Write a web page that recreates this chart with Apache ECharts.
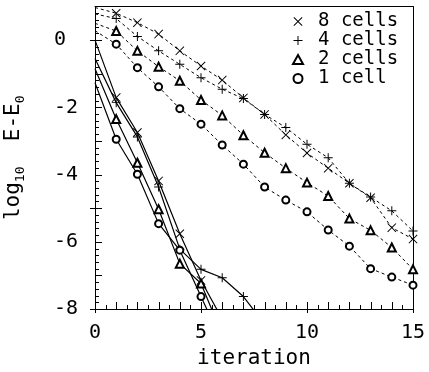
<!DOCTYPE html>
<html><head><meta charset="utf-8">
<script src="https://cdn.jsdelivr.net/npm/echarts@6/dist/echarts.min.js"></script>
<style>html,body{margin:0;padding:0;background:#fff}#c{width:429px;height:372px}</style>
</head><body><div id="c"></div>
<script>
// ---- data (log10 E - E0 vs iteration) ----
const names = ['8 cells', '4 cells', '2 cells', '1 cell'];
// dashed curves, iterations 0..15
const slow8 = [0.97, 0.80, 0.52, 0.18, -0.32, -0.77, -1.19, -1.72, -2.21, -2.82, -3.36, -3.81, -4.26, -4.69, -5.58, -5.92];
const slow4 = [0.78, 0.64, 0.11, -0.32, -0.72, -1.12, -1.46, -1.74, -2.21, -2.60, -3.10, -3.50, -4.26, -4.67, -5.08, -5.68];
const slow2 = [0.50, 0.27, -0.32, -0.79, -1.21, -1.78, -2.24, -2.83, -3.35, -3.81, -4.24, -4.64, -5.31, -5.66, -6.17, -6.82];
const slow1 = [0.28, -0.12, -0.82, -1.39, -2.04, -2.50, -3.12, -3.69, -4.37, -4.76, -5.11, -5.65, -6.13, -6.80, -7.05, -7.29];
// solid curves, iterations 0..n (last points run below the frame)
const fast8 = [0.00, -1.71, -2.75, -4.19, -5.76, -7.15, -8.30];
const fast4 = [-0.55, -1.86, -2.88, -4.37, -6.22, -6.82, -7.07, -7.63, -8.45];
const fast2 = [-0.85, -2.35, -3.65, -5.03, -6.65, -7.24, -8.76];
const fast1 = [-1.27, -2.95, -3.99, -5.46, -6.25, -7.63, -9.00];
const xTickLabels = [0, 5, 10, 15];
const yTickLabels = [0, -2, -4, -6, -8];

const PLUS = 'path://M4.45,0H5.55V4.45H10V5.55H5.55V10H4.45V5.55H0V4.45H4.45Z';
const CROSS = 'path://M0.75,0L5,4.25L9.25,0L10,0.75L5.75,5L10,9.25L9.25,10L5,5.75L0.75,10L0,9.25L4.25,5L0,0.75Z';
const symbols = [CROSS, PLUS, 'emptyTriangle', 'emptyCircle'];
const symSizes = [9, 9, 8, 7];
const borders = [0, 0, 1, 1];
const slowSets = [slow8, slow4, slow2, slow1];
const fastSets = [fast8, fast4, fast2, fast1];

const MONO = "'DejaVu Sans Mono', monospace";
const BLACK = '#000';

// tick positions (axis decoration)
function range(a, b, step) {
  const out = [];
  const n = Math.round((b - a) / step);
  for (let i = 0; i <= n; i++) out.push(Math.round((a + i * step) * 100) / 100);
  return out;
}
const xTickVals = range(0, 15, 0.5);
const yTickVals = range(-8, 1, 0.2);
const xCross = [0, 5, 10, 15], yCross = [-8, -5, 0];

function toData(arr) {
  return arr.map((v, i) => i === 0 ? { value: [i, v], symbol: 'none' } : [i, v]);
}

const series = [];
names.forEach((n, k) => {
  const common = {
    name: n, type: 'line', symbol: symbols[k], symbolSize: symSizes[k],
    itemStyle: { color: BLACK, borderColor: BLACK, borderWidth: borders[k] },
    emphasis: { disabled: true }, animation: false, clip: true, z: 3
  };
  series.push(Object.assign({}, common, {
    data: toData(slowSets[k]),
    lineStyle: { color: BLACK, width: 1, type: [3, 3] }
  }));
  series.push(Object.assign({}, common, {
    data: toData(fastSets[k]),
    lineStyle: { color: BLACK, width: 1.2, type: 'solid' }
  }));
});

function frameAxis(kind, pos) {
  return {
    type: 'value', position: pos,
    min: kind === 'x' ? 0 : -8, max: kind === 'x' ? 15 : 1,
    axisLine: { show: true, onZero: false, lineStyle: { color: BLACK, width: 1 } },
    axisTick: { show: false }, axisLabel: { show: false }, splitLine: { show: false }
  };
}

const chart = echarts.init(document.getElementById('c'), null, { renderer: 'canvas' });
chart.setOption({
  backgroundColor: '#fff',
  animation: false,
  grid: { left: 95, right: 16, top: 6.5, bottom: 63, show: false, containLabel: false, outerBoundsMode: 'none' },
  legend: {
    orient: 'vertical', left: 287, top: 7,
    itemWidth: 10, itemHeight: 9, itemGap: 0,
    selectedMode: false,
    textStyle: { fontFamily: MONO, fontSize: 19, color: BLACK, lineHeight: 19, padding: [0, 0, 0, 10] },
    data: names.map((n, k) => ({ name: n, icon: symbols[k] }))
  },
  xAxis: [{
    type: 'value', min: 0, max: 15, position: 'bottom',
    axisLine: { show: true, onZero: false, lineStyle: { color: BLACK, width: 1 } },
    axisTick: { show: true, inside: false, length: 4, customValues: xCross, lineStyle: { color: BLACK, width: 1 } },
    splitLine: { show: false },
    axisLabel: { margin: 14, fontFamily: MONO, fontSize: 20, color: BLACK, customValues: xTickLabels },
    name: 'iteration', nameLocation: 'middle', nameGap: 36,
    nameTextStyle: { fontFamily: MONO, fontSize: 21, color: BLACK }
  }, frameAxis('x', 'top')],
  yAxis: [{
    type: 'value', min: -8, max: 1, position: 'left',
    axisLine: { show: true, onZero: false, lineStyle: { color: BLACK, width: 1 } },
    axisTick: { show: true, inside: false, length: 5, customValues: yCross, lineStyle: { color: BLACK, width: 1 } },
    splitLine: { show: false },
    axisLabel: { margin: 41, align: 'left', fontFamily: MONO, fontSize: 20, color: BLACK, customValues: yTickLabels },
    name: '{a|log}{s|10}{a|  E-E}{s|0}', nameLocation: 'middle', nameGap: 68,
    nameTextStyle: {
      color: BLACK,
      rich: {
        a: { fontFamily: MONO, fontSize: 21, color: BLACK, lineHeight: 26 },
        s: { fontFamily: MONO, fontSize: 13, color: BLACK, verticalAlign: 'bottom', lineHeight: 26 }
      }
    }
  }, frameAxis('y', 'right')],
  series: series
});

// inward tick marks, positioned through the chart's own axis scales
const finder = { xAxisIndex: 0, yAxisIndex: 0 };
const tickGraphics = [];
xTickVals.forEach(v => {
  const p = chart.convertToPixel(finder, [v, -8]);
  const len = Number.isInteger(v) ? 7 : 4;
  const x = Math.round(p[0]) + 0.5;
  tickGraphics.push({ type: 'line', silent: true, z: 50,
    shape: { x1: x, y1: p[1], x2: x, y2: p[1] - len },
    style: { stroke: BLACK, lineWidth: 1 } });
});
yTickVals.forEach(v => {
  const p = chart.convertToPixel(finder, [0, v]);
  const len = Number.isInteger(v) ? 7 : 4;
  const y = Math.round(p[1]) + 0.5;
  tickGraphics.push({ type: 'line', silent: true, z: 50,
    shape: { x1: p[0], y1: y, x2: p[0] + len, y2: y },
    style: { stroke: BLACK, lineWidth: 1 } });
});
chart.setOption({ graphic: { elements: tickGraphics } });
</script></body></html>
